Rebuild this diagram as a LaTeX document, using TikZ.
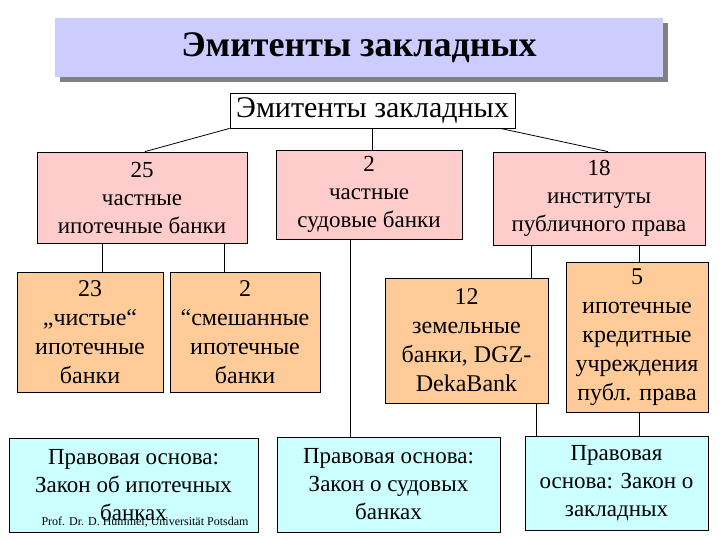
\documentclass[tikz,border=0pt]{standalone}
\usepackage{fontspec}
\setmainfont{Liberation Serif}
\usepackage{tikz}
\usetikzlibrary{shapes}

\definecolor{titlefill}{RGB}{204,204,255}
\definecolor{pinkfill}{RGB}{255,204,204}
\definecolor{orangefill}{RGB}{255,204,153}
\definecolor{cyanfill}{RGB}{204,255,255}

\begin{document}
\begin{tikzpicture}[x=1pt,y=-1pt]
    \tikzstyle{box}=[rectangle,draw,line width=0.8pt,align=center,inner sep=0pt,font=\fontsize{23}{28}\selectfont]
    \tikzstyle{pinkbox}=[box,fill=pinkfill]
    \tikzstyle{orangebox}=[box,fill=orangefill,font=\fontsize{24}{29}\selectfont]
    \tikzstyle{cyanbox}=[box,fill=cyanfill]
    \tikzstyle{link}=[line width=0.8pt]
    \useasboundingbox (0,0) rectangle (720,540);
    % title banner with shadow
    \fill[gray] (60,23) rectangle (668,82);
    \node[rectangle,fill=titlefill,minimum width=608pt,minimum height=59pt,inner sep=0pt,font=\fontsize{36}{40}\selectfont\bfseries] (title) at (359,47.5) {Эмитенты закладных};
    \node[box,fill=white,minimum width=285pt,minimum height=35pt,font=\fontsize{30}{32}\selectfont] (root) at (372.5,110.5) {Эмитенты закладных};
    % first level
    \node[pinkbox,minimum width=210pt,minimum height=91pt] (lpink) at (142,197.5) {25\\частные\\ипотечные банки};
    \node[pinkbox,minimum width=186pt,minimum height=89pt] (mpink) at (369,194.5) {2\\частные\\судовые банки};
    \node[pinkbox,minimum width=212pt,minimum height=93pt] (rpink) at (599,198.5) {18\\институты\\публичного права};
    % second level
    \node[orangebox,minimum width=146pt,minimum height=120pt] (pure) at (90,332) {23\\„чистые“\\ипотечные\\банки};
    \node[orangebox,minimum width=150pt,minimum height=120pt] (mixed) at (245,332) {2\\“смешанные\\ипотечные\\банки};
    \node[orangebox,minimum width=163pt,minimum height=125pt] (land) at (466.5,340.5) {12\\земельные\\банки, DGZ-\\DekaBank};
    \node[orangebox,minimum width=142pt,minimum height=150pt] (credit) at (637,337) {5\\ипотечные\\кредитные\\учреждения\\публ. права};
    % legal basis
    \node[cyanbox,minimum width=249pt,minimum height=94pt] (lawmort) at (133.5,485) {Правовая основа:\\Закон об ипотечных\\банках};
    \node[cyanbox,minimum width=223pt,minimum height=95pt] (lawship) at (388.5,484.5) {Правовая основа:\\Закон о судовых\\банках};
    \node[cyanbox,minimum width=183pt,minimum height=94pt] (lawpfand) at (616.5,483) {Правовая\\основа: Закон о\\закладных};
    \node[font=\fontsize{12}{12}\selectfont] (footer) at (145,522) {Prof. Dr. D. Hummel, Universität Potsdam};
    % connectors
    \draw[link] (root.south west) -- ([xshift=3pt]lpink.north);
    \draw[link] (root.south) -- (root.south |- mpink.north);
    \draw[link] ([xshift=-15pt]root.south east) -- ([xshift=9pt]rpink.north);
    \draw[link] ([xshift=12pt]pure.north) -- ([xshift=12pt]pure.north |- lpink.south);
    \draw[link] ([xshift=-21pt]mixed.north) -- ([xshift=-21pt]mixed.north |- lpink.south);
    \draw[link] ([xshift=-19pt]mpink.south) -- ([xshift=-19pt]mpink.south |- lawship.north);
    \draw[link] ([xshift=64.5pt]land.north) -- ([xshift=64.5pt]land.north |- rpink.south);
    \draw[link] ([xshift=2pt]credit.north) -- ([xshift=2pt]credit.north |- rpink.south);
    \draw[link] ([xshift=69.5pt]land.south) -- ([xshift=69.5pt]land.south |- lawpfand.north);
    \draw[link] ([xshift=2pt]credit.south) -- ([xshift=2pt]credit.south |- lawpfand.north);
\end{tikzpicture}
\end{document}
